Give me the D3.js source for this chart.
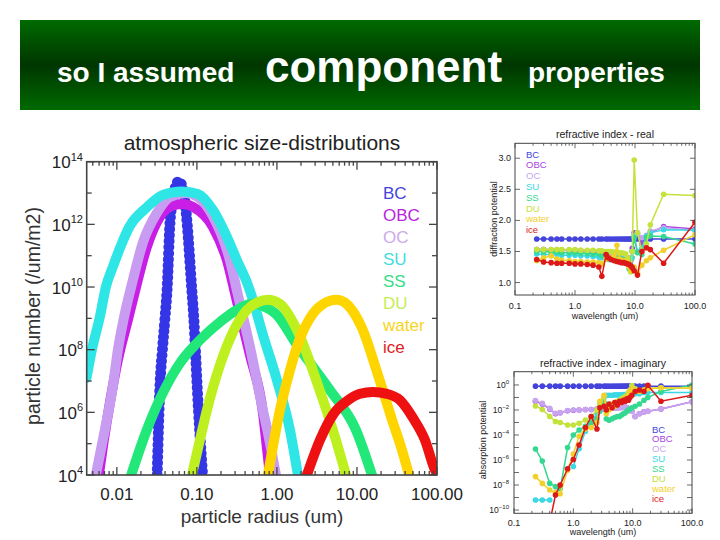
<!DOCTYPE html>
<html><head><meta charset="utf-8">
<script src="https://cdn.jsdelivr.net/npm/d3@7"></script>
<style>
body{margin:0;background:#fff}
svg{display:block}
text{font-family:"Liberation Sans",Arial,Helvetica,sans-serif}
</style>
</head><body>
<svg id="c" width="720" height="540"></svg>
<script>
// ================= DATA =================
const seriesNames = ["BC","OBC","OC","SU","SS","DU","water","ice"];

// --- atmospheric size-distributions: radius (um) and particle number (/um/m2) ---
const bcRadius  = [0.0319,0.0345,0.0371,0.0398,0.0426,0.046,0.0501,0.0546,0.0596,0.0649,0.0708,0.0757,0.0859,0.0917,0.0958,0.1009,0.1178];
const bcNumber  = [1e4,6.5e6,1e8,9e8,1e10,1e12,6e12,1.7e13,2.4e13,1.7e13,6e12,1e12,1e10,9e8,1e8,6.5e6,1e4];
const obcRadius = [0.00596,0.00688,0.00818,0.0103,0.01372,0.01585,0.0237,0.0345,0.0501,0.0668,0.0891,0.158,0.237,0.3133,0.46,0.668,0.772,0.818];
const obcNumber = [1e4,1.3e5,2e6,4.7e7,8.9e8,3.9e9,1.9e11,1.74e12,4e12,4.5e12,3.6e12,8.3e11,7.2e10,3.9e9,6.8e7,1e6,3.7e4,1e4];
const ocRadius  = [0.00546,0.00708,0.00891,0.0103,0.01224,0.01585,0.0211,0.0316,0.046,0.0729,0.1029,0.158,0.2585,0.3255,0.46,0.668,0.772,0.972];
const ocNumber  = [1e4,2.75e5,6.5e6,9.8e7,1.02e9,1.66e10,2.57e11,2.3e12,7.4e12,1e13,7.4e12,1.86e12,7.2e10,5.6e9,1.23e8,1.17e6,2.2e5,1e4];
const suRadius  = [0.00418,0.00487,0.00613,0.00729,0.00891,0.01454,0.0237,0.0376,0.0649,0.1029,0.158,0.237,0.316,0.434,0.501,0.668,1.0,1.454,1.83];
const suNumber  = [1.26e7,9.8e7,1.1e9,1e10,4.4e10,8.9e11,3.5e12,8.7e12,1.12e13,9.3e12,2.9e12,4e11,7.2e10,1.15e10,3.9e9,3e8,1.07e7,2.75e5,1e4];
const ssRadius  = [0.01496,0.0237,0.0376,0.0613,0.1,0.194,0.316,0.487,0.944,1.778,4.6,9.72,15.4];
const ssNumber  = [9.3e3,2.75e5,4.2e6,3.7e7,1.62e8,7.6e8,1.86e9,2.9e9,1.48e9,1.41e8,5.1e6,2.75e5,1e4];
const duRadius  = [0.0866,0.109,0.1334,0.194,0.282,0.422,0.579,0.772,1.09,1.778,3.25,5.46,7.29];
const duNumber  = [1e4,1.3e5,1.17e6,3.2e7,3.6e8,1.86e9,3.3e9,3.9e9,2.9e9,4.3e8,7.4e6,1.3e5,1e4];
const waterRadius = [0.772,1.09,1.454,1.94,2.585,3.65,5.62,8.66,11.55,18.3,27.4,36.5,44.7];
const waterNumber = [1e4,1.17e6,2.2e7,2.3e8,1.02e9,2.7e9,3.9e9,1.86e9,4.9e8,1.55e7,5.8e5,6.3e4,1e4];
const iceRadius = [2.37,3.45,5.01,7.5,10.9,15.85,23.7,34.5,50.1,70.8,94.4,100];
const iceNumber = [1e4,1.3e5,8.3e5,2.3e6,3.9e6,4.5e6,3.9e6,2.45e6,6.6e5,1.3e5,1.45e4,1.1e4];

const sizeXTicks = [0.01,0.1,1,10,100];
const sizeXTickLabels = ["0.01","0.10","1.00","10.00","100.00"];
const sizeYExponents = [4,6,8,10,12,14];

// --- refractive index: wavelength (um) ---
const wavelength = [0.23,0.3,0.4,0.5,0.6,0.8,1.0,1.25,1.6,2.0,2.5,2.8,3.3,3.6,4.0,4.5,5.0,5.5,6.0,6.5,7.0,7.5,8.0,8.5,9.0,9.7,11.0,13.0,15.5,18.0,30.0,100.0];
// real part
const realBC  = [1.70,1.70,1.70,1.70,1.70,1.70,1.70,1.70,1.70,1.70,1.70,1.70,1.70,1.70,1.70,1.70,1.70,1.70,1.70,1.70,1.70,1.70,1.70,1.70,1.70,1.70,1.70,1.70,1.70,1.70,1.70,1.70];
const realOBC = [1.53,1.53,1.52,1.52,1.52,1.52,1.52,1.51,1.51,1.50,1.50,1.48,1.45,1.44,1.44,1.43,1.43,1.42,1.42,1.41,1.40,1.40,1.38,1.35,1.55,1.80,1.78,1.62,1.72,1.80,1.90,1.86];
const realOC  = [1.53,1.53,1.53,1.53,1.52,1.52,1.52,1.52,1.51,1.51,1.50,1.49,1.46,1.45,1.45,1.44,1.44,1.43,1.43,1.42,1.41,1.40,1.39,1.36,1.50,1.75,1.80,1.72,1.76,1.83,1.88,1.84];
const realSU  = [1.46,1.45,1.45,1.45,1.44,1.44,1.44,1.43,1.43,1.42,1.41,1.40,1.38,1.37,1.37,1.36,1.36,1.35,1.35,1.34,1.33,1.32,1.30,1.28,1.40,1.75,1.50,1.55,1.75,1.80,1.85,1.84];
const realSS  = [1.50,1.50,1.49,1.49,1.48,1.48,1.48,1.47,1.47,1.46,1.46,1.44,1.42,1.41,1.40,1.40,1.40,1.39,1.38,1.37,1.36,1.35,1.22,1.20,1.50,1.72,1.48,1.45,1.73,1.75,1.74,1.62];
const realDU  = [1.53,1.53,1.53,1.53,1.53,1.53,1.53,1.52,1.52,1.52,1.51,1.51,1.50,1.50,1.50,1.49,1.49,1.48,1.48,1.47,1.46,1.40,1.30,1.17,1.50,2.97,1.80,1.50,1.62,1.93,2.42,2.40];
const realWater = [1.35,1.40,1.43,1.38,1.36,1.35,1.34,1.34,1.33,1.33,1.32,1.30,1.38,1.40,1.40,1.42,1.60,1.38,1.36,1.35,1.34,1.33,1.25,1.20,1.22,1.25,1.15,1.28,1.35,1.40,1.52,1.77];
const realIce = [1.37,1.33,1.32,1.31,1.31,1.31,1.30,1.30,1.29,1.28,1.25,1.10,1.45,1.40,1.37,1.35,1.34,1.33,1.32,1.32,1.31,1.30,1.29,1.27,1.24,1.19,1.12,1.50,1.56,1.53,1.31,1.97];
const realYTicks = [1.0,1.5,2.0,2.5,3.0];
const realYTickLabels = ["1.0","1.5","2.0","2.5","3.0"];
const wlTicks = [0.1,1,10,100];
const wlTickLabels = ["0.1","1.0","10.0","100.0"];
// imaginary part
const imagBC  = [0.8,0.8,0.8,0.8,0.8,0.8,0.8,0.8,0.8,0.8,0.8,0.8,0.8,0.8,0.8,0.8,0.8,0.8,0.8,0.8,0.8,0.8,0.8,0.8,0.8,0.8,0.8,0.8,0.8,0.8,0.8,0.8];
const imagOBC = [5.0e-2,3.0e-2,1.2e-2,5.0e-3,6.0e-3,8.5e-3,9.5e-3,1e-2,1.1e-2,1.1e-2,1.2e-2,1.2e-2,1.2e-2,1.3e-2,1.3e-2,1.4e-2,1.5e-2,1.5e-2,1.6e-2,1.6e-2,1.7e-2,1.7e-2,1.5e-2,1.3e-2,1.2e-2,8e-3,3e-3,5e-3,7e-3,8e-3,1.2e-2,4.5e-2];
const imagOC  = [5.6e-2,3.4e-2,1.35e-2,5.4e-3,6.3e-3,8.9e-3,1e-2,1e-2,1.1e-2,1.1e-2,1.2e-2,1.2e-2,1.2e-2,1.3e-2,1.3e-2,1.4e-2,1.5e-2,1.5e-2,1.6e-2,1.6e-2,1.7e-2,1.7e-2,1.5e-2,1.3e-2,1.2e-2,8e-3,3e-3,5e-3,7e-3,8e-3,1.2e-2,4.5e-2];
const imagSU  = [6.3e-10,6.3e-10,6.3e-10,null,null,null,3e-7,8e-6,2e-4,1e-3,5e-3,3e-2,0.1,0.15,0.15,0.15,0.16,0.16,0.16,0.16,0.17,0.17,0.18,0.2,0.25,0.35,0.2,0.2,0.25,0.25,0.25,0.25];
const imagSS  = [7.6e-6,8.3e-7,1.35e-8,7.4e-9,5e-9,1e-5,1e-4,2.5e-4,5e-4,1e-3,2e-3,8e-3,4e-2,2e-3,1.5e-3,2e-3,2.5e-3,3e-3,3e-3,4e-3,5e-3,6e-3,8e-3,1e-2,1.2e-2,1.5e-2,2e-2,3e-2,6e-2,0.1,0.3,1.0];
const imagDU  = [2.1e-2,1.1e-2,3e-3,1.2e-3,1e-3,6.3e-4,6.3e-4,8.5e-4,1.6e-3,3e-3,1e-2,2.5e-2,0.13,1.6e-2,2e-2,3e-2,4e-2,5e-2,6e-2,8e-2,0.1,0.12,0.15,0.25,0.4,0.9,0.5,0.35,0.4,0.55,0.6,0.55];
const imagWater = [4.7e-8,1.35e-8,4e-9,2.5e-9,2e-9,1.5e-7,3e-6,8e-5,3e-4,4e-4,1e-3,5e-2,0.15,5e-3,1e-2,1.5e-2,2e-2,3e-2,4e-2,4e-2,6e-2,8e-2,0.1,0.15,0.3,0.5,0.3,0.3,0.4,0.5,0.6,0.55];
const imagIce = [null,null,1e-11,1.6e-9,1e-8,2e-7,1.1e-6,1.6e-5,4e-4,3e-3,3e-4,1.5e-2,2e-2,1e-2,3e-2,1.5e-2,4e-2,2.5e-2,5e-2,4e-2,6e-2,5e-2,8e-2,6e-2,0.1,0.15,0.3,0.4,0.3,0.95,0.05,0.15];
const imagYExponents = [0,-2,-4,-6,-8,-10];

// ================= STYLE =================
const mainColors   = ["#3535e8","#c81ee6","#c89cf0","#2ee6e6","#22e87a","#bdf01e","#ffd500","#ee1111"];
const mainLegendCl = ["#4444dd","#bb22dd","#ccaaee","#44dddd","#33dd88","#c4ee55","#f5d522","#dd2222"];
const smallColors  = ["#4444dc","#a844e0","#c8a4ee","#3ad8e4","#34d890","#c4e23c","#f2d02c","#dc1818"];
const axisCol = "#444";

const svg = d3.select("#c");
const defs = svg.append("defs");

// ================= BANNER =================
const grad = defs.append("linearGradient").attr("id","bannerGrad").attr("x1",0).attr("y1",0).attr("x2",0).attr("y2",1);
grad.append("stop").attr("offset","0%").attr("stop-color","#006a00");
grad.append("stop").attr("offset","50%").attr("stop-color","#003600");
grad.append("stop").attr("offset","100%").attr("stop-color","#006a00");
svg.append("rect").attr("x",20).attr("y",20).attr("width",680).attr("height",90).attr("fill","url(#bannerGrad)");
const bannerText = [
  {t:"so I assumed", x:57, fs:28},
  {t:"component", x:265, fs:44},
  {t:"properties", x:528, fs:28}
];
bannerText.forEach(b=>{
  svg.append("text").attr("x",b.x).attr("y",82).attr("fill","#fff").style("font-size",b.fs+"px").style("font-weight","bold").text(b.t);
});

// helper superscript label
function supLabel(g, x, y, base, exp, fs, sfs, anchor, fill){
  const t = g.append("text").attr("x",x).attr("y",y).attr("text-anchor",anchor).attr("fill",fill||"#222").style("font-size",fs+"px");
  t.append("tspan").text(base);
  t.append("tspan").attr("dy",-fs*0.45).style("font-size",sfs+"px").text(exp);
  return t;
}

// ================= MAIN CHART =================
const mL=86.7, mR=437, mT=161.7, mB=475;
const mx = d3.scaleLog().domain([0.0042,100]).range([mL,mR]);
const my = d3.scaleLog().domain([1e4,1e14]).range([mB,mT]);
const gMain = svg.append("g");
defs.append("clipPath").attr("id","clipMain").append("rect").attr("x",mL).attr("y",mT).attr("width",mR-mL).attr("height",mB-mT);

const sizeSeries = [
  [bcRadius,bcNumber],[obcRadius,obcNumber],[ocRadius,ocNumber],[suRadius,suNumber],
  [ssRadius,ssNumber],[duRadius,duNumber],[waterRadius,waterNumber],[iceRadius,iceNumber]
];
const mLine = d3.line().x(d=>mx(d[0])).y(d=>my(d[1])).curve(d3.curveMonotoneX);
const gCurves = gMain.append("g").attr("clip-path","url(#clipMain)");
sizeSeries.forEach((s,i)=>{
  const pts = s[0].map((r,k)=>[r,s[1][k]]);
  const p = gCurves.append("path").attr("d",mLine(pts)).attr("fill","none")
    .attr("stroke",mainColors[i]).attr("stroke-width", i===0?11:10)
    .attr("stroke-linecap","round").attr("stroke-linejoin","round");
  if(i===0) p.attr("stroke-dasharray","0,6"); // BC drawn as overlapping symbols
});

// frame
gMain.append("rect").attr("x",mL).attr("y",mT).attr("width",mR-mL).attr("height",mB-mT)
  .attr("fill","none").attr("stroke",axisCol).attr("stroke-width",1.6);
// x ticks
const isDecade = v => Math.abs(Math.log10(v)-Math.round(Math.log10(v)))<1e-9;
mx.ticks().forEach(v=>{
  const len = isDecade(v)?8:4;
  const xx = mx(v);
  gMain.append("line").attr("x1",xx).attr("x2",xx).attr("y1",mB).attr("y2",mB-len).attr("stroke",axisCol).attr("stroke-width",1.3);
  gMain.append("line").attr("x1",xx).attr("x2",xx).attr("y1",mT).attr("y2",mT+len).attr("stroke",axisCol).attr("stroke-width",1.3);
});
sizeXTicks.forEach((v,i)=>{
  gMain.append("text").attr("x",mx(v)).attr("y",500).attr("text-anchor","middle").attr("fill","#222")
    .style("font-size","17px").text(sizeXTickLabels[i]);
});
// y ticks
d3.range(4,15).forEach(e=>{
  const yy = my(Math.pow(10,e));
  const len = (e%2===0)?8:5;
  gMain.append("line").attr("x1",mL).attr("x2",mL+len).attr("y1",yy).attr("y2",yy).attr("stroke",axisCol).attr("stroke-width",1.3);
  gMain.append("line").attr("x1",mR).attr("x2",mR-len).attr("y1",yy).attr("y2",yy).attr("stroke",axisCol).attr("stroke-width",1.3);
});
sizeYExponents.forEach(e=>{
  supLabel(gMain, 83, my(Math.pow(10,e))+6.5, "10", String(e), 17, 11, "end");
});
// titles
gMain.append("text").attr("x",262).attr("y",150).attr("text-anchor","middle").attr("fill","#222")
  .style("font-size","21px").text("atmospheric size-distributions");
gMain.append("text").attr("x",262).attr("y",523).attr("text-anchor","middle").attr("fill","#333")
  .style("font-size","19px").text("particle radius (um)");
gMain.append("text").attr("transform","translate(40,316) rotate(-90)").attr("text-anchor","middle").attr("fill","#333")
  .style("font-size","19.5px").text("particle number (/um/m2)");
// legend
seriesNames.forEach((n,i)=>{
  gMain.append("text").attr("x",383).attr("y",199+i*22).attr("fill",mainLegendCl[i]).style("font-size","17px").text(n);
});

// ================= SMALL CHART helper =================
function drawSmall(cfg){
  const g = svg.append("g");
  const {L,R,T,B,x,y,id} = cfg;
  defs.append("clipPath").attr("id",id).append("rect").attr("x",L).attr("y",T).attr("width",R-L).attr("height",B-T);
  const gc = g.append("g").attr("clip-path",`url(#${id})`);
  cfg.series.forEach((vals,i)=>{
    const pts = wavelength.map((w,k)=>[w,vals[k]]);
    const line = d3.line().defined(d=>d[1]!==null).x(d=>x(d[0])).y(d=>y(d[1]));
    gc.append("path").attr("d",line(pts)).attr("fill","none").attr("stroke",smallColors[i]).attr("stroke-width",1.5);
    gc.selectAll(null).data(pts.filter(d=>d[1]!==null)).enter().append("circle")
      .attr("cx",d=>x(d[0])).attr("cy",d=>y(d[1])).attr("r",2.8).attr("fill",smallColors[i]);
  });
  g.append("rect").attr("x",L).attr("y",T).attr("width",R-L).attr("height",B-T).attr("fill","none").attr("stroke",axisCol).attr("stroke-width",1);
  x.ticks().forEach(v=>{
    const len = isDecade(v)?5:2.5; const xx=x(v);
    g.append("line").attr("x1",xx).attr("x2",xx).attr("y1",B).attr("y2",B-len).attr("stroke",axisCol).attr("stroke-width",0.8);
    g.append("line").attr("x1",xx).attr("x2",xx).attr("y1",T).attr("y2",T+len).attr("stroke",axisCol).attr("stroke-width",0.8);
  });
  wlTicks.forEach((v,i)=>{
    g.append("text").attr("x",x(v)).attr("y",cfg.xLabelY).attr("text-anchor","middle").attr("fill","#222").style("font-size","9px").text(wlTickLabels[i]);
  });
  cfg.yTickPos.forEach(v=>{
    const yy=y(v);
    g.append("line").attr("x1",L).attr("x2",L+5).attr("y1",yy).attr("y2",yy).attr("stroke",axisCol).attr("stroke-width",0.8);
    g.append("line").attr("x1",R).attr("x2",R-5).attr("y1",yy).attr("y2",yy).attr("stroke",axisCol).attr("stroke-width",0.8);
  });
  g.append("text").attr("x",(L+R)/2).attr("y",cfg.titleY).attr("text-anchor","middle").attr("fill","#222").style("font-size","10.5px").text(cfg.title);
  g.append("text").attr("x",(L+R)/2).attr("y",cfg.xTitleY).attr("text-anchor","middle").attr("fill","#222").style("font-size","9px").text("wavelength (um)");
  g.append("text").attr("transform",`translate(${cfg.yTitleX},${cfg.yTitleCy}) rotate(-90)`).attr("text-anchor","middle").attr("fill","#222").style("font-size","9px").text(cfg.yTitle);
  seriesNames.forEach((n,i)=>{
    g.append("text").attr("x",cfg.legX).attr("y",cfg.legY+i*cfg.legDy).attr("fill",smallColors[i]).style("font-size","9.5px").text(n);
  });
  return g;
}

// ================= REAL =================
const rx = d3.scaleLog().domain([0.1,100]).range([515,695]);
const ry = d3.scaleLinear().domain([0.8,3.24]).range([295,143.3]);
const gR = drawSmall({id:"clipR",L:515,R:695,T:143.3,B:295,x:rx,y:ry,
  series:[realBC,realOBC,realOC,realSU,realSS,realDU,realWater,realIce],
  xLabelY:309,yTickPos:realYTicks,title:"refractive index - real",titleY:138,xTitleY:319,
  yTitle:"diffraction potential",yTitleX:497,yTitleCy:219,legX:526,legY:157.5,legDy:10.8});
realYTicks.forEach((v,i)=>{
  gR.append("text").attr("x",511).attr("y",ry(v)+3).attr("text-anchor","end").attr("fill","#222").style("font-size","9px").text(realYTickLabels[i]);
});

// ================= IMAGINARY =================
const ix = d3.scaleLog().domain([0.1,100]).range([514,692]);
const iy = d3.scaleLog().domain([Math.pow(10,-10.26),Math.pow(10,1.06)]).range([513.3,371.7]);
const gI = drawSmall({id:"clipI",L:514,R:692,T:371.7,B:513.3,x:ix,y:iy,
  series:[imagBC,imagOBC,imagOC,imagSU,imagSS,imagDU,imagWater,imagIce],
  xLabelY:526,yTickPos:d3.range(-10,1).map(e=>Math.pow(10,e)),title:"refractive index - imaginary",titleY:367,xTitleY:535,
  yTitle:"absorption potential",yTitleX:486,yTitleCy:440,legX:652,legY:432.5,legDy:9.9});
imagYExponents.forEach(e=>{
  supLabel(gI, 509, iy(Math.pow(10,e))+3, "10", String(e).replace("-","\u2212"), 8.5, 6, "end");
});
</script>
</body></html>
